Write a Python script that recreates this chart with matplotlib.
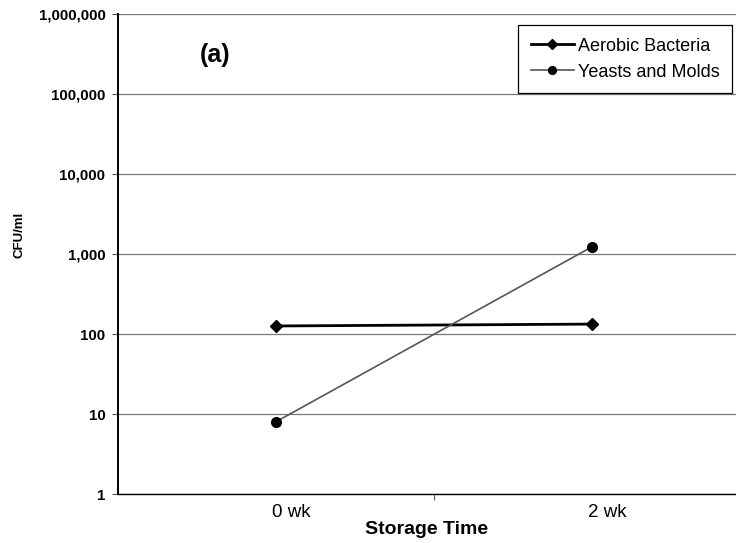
import numpy as np
import matplotlib.pyplot as plt
from matplotlib.ticker import FuncFormatter, FixedLocator

plt.rcParams['font.family'] = ['Liberation Sans', 'DejaVu Sans']

# data
weeks = ["0 wk", "2 wk"]
aerobic = [126, 133]
yeasts = [8, 1230]
yticks = [1, 10, 100, 1000, 10000, 100000, 1000000]

fig = plt.figure(figsize=(7.36, 5.43), dpi=100)
ax = fig.add_axes([118/736, 49/543, 618/736, 480/543])

xpos = np.arange(len(weeks)) + 0.5
ax.plot(xpos, aerobic, color='black', lw=2, marker='D', ms=6, label='Aerobic Bacteria')
ax.plot(xpos, yeasts, color='#555555', lw=1.2, marker='o', ms=7,
        mfc='black', mec='black', label='Yeasts and Molds')

ax.set_yscale('log')
ax.set_ylim(1, 1000000)
ax.set_xlim(0, 618/316)
ax.yaxis.set_major_locator(FixedLocator(yticks))
ax.yaxis.set_minor_locator(FixedLocator([]))
ax.yaxis.set_major_formatter(FuncFormatter(lambda v, p: '{:,.0f}'.format(v)))
ax.grid(axis='y', color='#777777', lw=0.9)

# category labels (sit a little right of the points in the original)
ax.set_xticks([1])
ax.set_xticklabels([''])
ax.set_xticks(xpos + 0.047, minor=True)
ax.set_xticklabels(weeks, minor=True, fontsize=13.5)
ax.tick_params(axis='x', which='minor', length=0, pad=7)
ax.tick_params(axis='x', which='major', length=4, color='#555555')
ax.tick_params(axis='y', length=4, pad=5, color='#555555')
for lab in ax.get_yticklabels():
    lab.set_fontweight('bold')
    lab.set_fontsize(10.8)

ax.set_xlabel('Storage Time', fontsize=14, fontweight='bold', labelpad=0)
ax.set_ylabel('CFU/ml', fontsize=9.5, fontweight='bold')
ax.yaxis.set_label_coords(-0.15, 0.54)

for s in ['top', 'right']:
    ax.spines[s].set_visible(False)
ax.spines['left'].set_linewidth(1.4)
ax.spines['bottom'].set_linewidth(1.0)

ax.text(0.157, 0.915, '(a)', transform=ax.transAxes, fontsize=18, fontweight='bold',
        ha='center', va='center')

leg = ax.legend(loc='upper right', bbox_to_anchor=(0.9935, 0.977), borderaxespad=0,
                fontsize=13, fancybox=False, edgecolor='black', framealpha=1,
                handlelength=2.4, borderpad=0.7, labelspacing=0.5, handletextpad=0.2,
                markerscale=0.8)
leg.get_frame().set_linewidth(0.9)

fig.savefig('out.png', dpi=100)
